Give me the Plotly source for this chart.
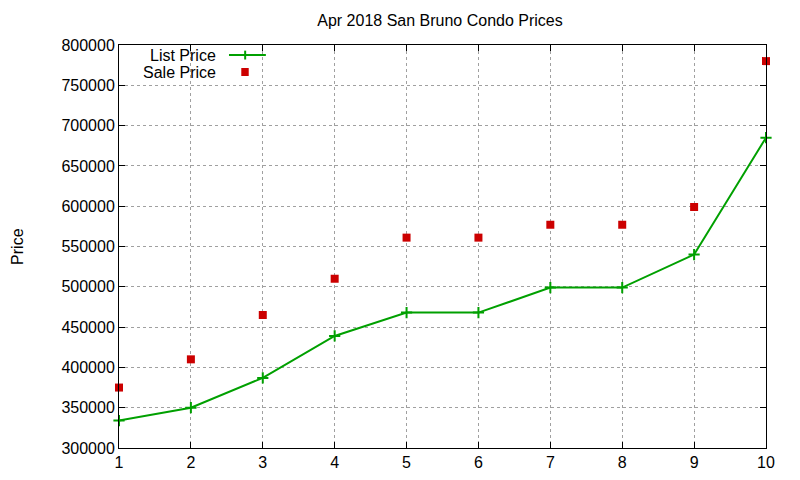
import plotly.graph_objects as go

# data
months = [1, 2, 3, 4, 5, 6, 7, 8, 9, 10]
list_price = [334000, 350000, 387000, 439000, 468000, 468000, 499000, 499000, 540000, 685000]
sale_price = [375000, 410000, 465000, 510000, 561000, 561000, 577000, 577000, 599000, 780000]

GREEN = "#00a000"
RED = "#cc0000"
FONT = "Liberation Sans, Arial, sans-serif"

fig = go.Figure()
fig.add_trace(
    go.Scatter(
        x=months,
        y=list_price,
        mode="lines+markers",
        name="List Price",
        line={"color": GREEN, "width": 2},
        marker={"symbol": "cross-thin", "size": 8, "line": {"color": GREEN, "width": 2}},
        cliponaxis=False,
    )
)
fig.add_trace(
    go.Scatter(
        x=months,
        y=sale_price,
        mode="markers",
        name="Sale Price",
        marker={"symbol": "square", "size": 8, "color": RED},
        cliponaxis=False,
    )
)

# gnuplot style legend: right aligned text, key sample to the right
legend_rows = [("List Price", 0.975), ("Sale Price", 0.933)]
for text, yy in legend_rows:
    fig.add_annotation(
        x=0.153, y=yy, xref="paper", yref="paper", text=text, showarrow=False,
        xanchor="right", yanchor="middle", font={"size": 16, "color": "black", "family": FONT},
    )
fig.add_annotation(
    x=-0.157, y=0.5, xref="paper", yref="paper", text="Price", showarrow=False, textangle=-90,
    xanchor="center", yanchor="middle", font={"size": 16, "color": "black", "family": FONT},
)
fig.add_shape(type="line", xref="paper", yref="paper", x0=0.170, x1=0.227, y0=0.975, y1=0.975,
              line={"color": GREEN, "width": 2})
fig.add_shape(type="line", xref="paper", yref="paper", x0=0.195, x1=0.195, y0=0.964, y1=0.986,
              line={"color": GREEN, "width": 2})
fig.add_shape(type="rect", xref="paper", yref="paper", x0=0.189, x1=0.2005, y0=0.923, y1=0.943,
              line={"width": 0}, fillcolor=RED)

axis_common = dict(
    showline=True,
    linecolor="black",
    linewidth=1,
    mirror="ticks",
    ticks="inside",
    ticklen=6,
    tickcolor="black",
    showgrid=True,
    gridcolor="#a0a0a0",
    griddash="dot",
    gridwidth=1,
    zeroline=False,
    automargin=False,
    tickfont={"size": 16, "color": "black", "family": FONT},
)

# page body has an 8px margin, so the margins are shifted to compensate
fig.update_layout(
    width=800,
    height=480,
    margin={"l": 111, "r": 42, "t": 37, "b": 40, "autoexpand": False},
    paper_bgcolor="white",
    plot_bgcolor="white",
    showlegend=False,
    font={"family": FONT, "color": "black", "size": 16},
    title={"text": "Apr 2018 San Bruno Condo Prices", "x": 0.54, "xanchor": "center",
           "y": 0.975, "yanchor": "middle", "font": {"size": 16, "color": "black"}},
    xaxis=dict(range=[1, 10], dtick=1, tick0=1, **axis_common),
    yaxis=dict(range=[300000, 800000], dtick=50000, tickformat="d", **axis_common),
)

fig.write_html("out.html")
